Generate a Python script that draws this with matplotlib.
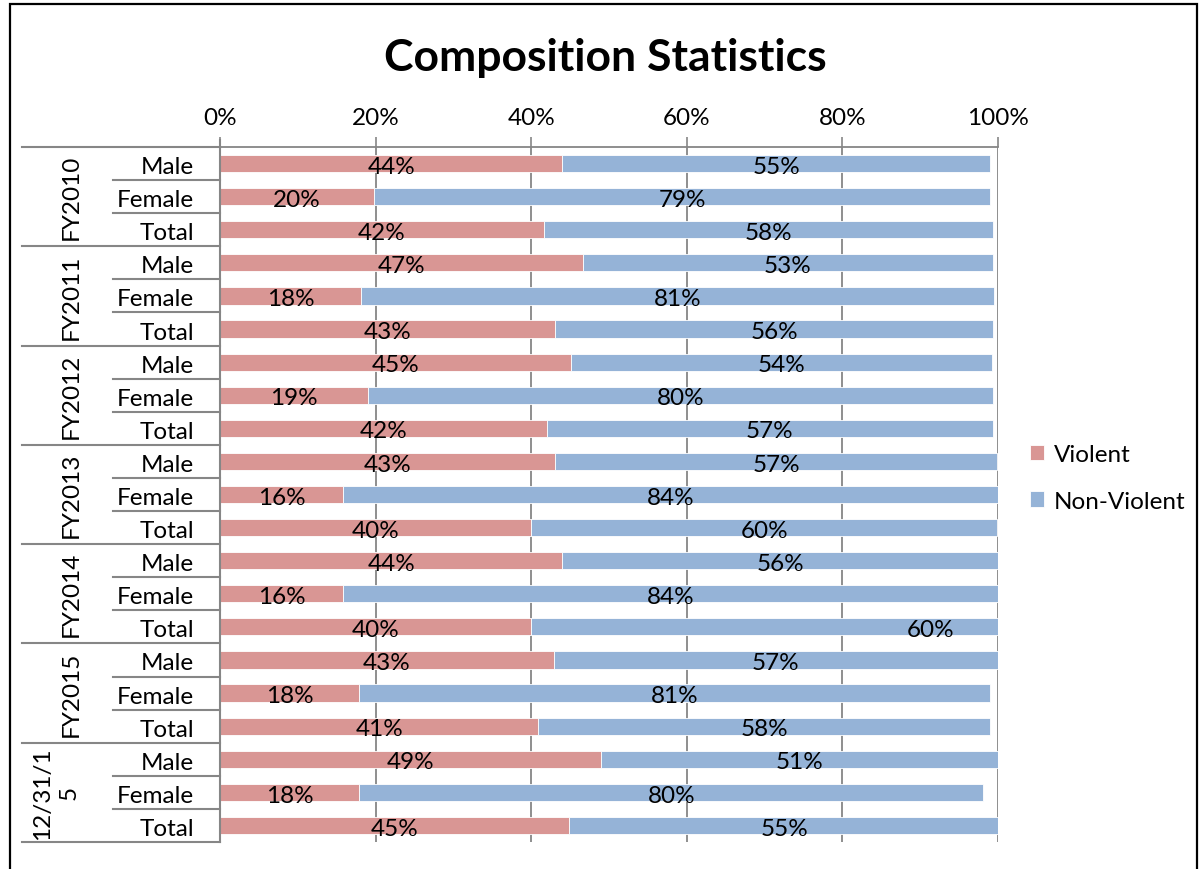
import matplotlib
matplotlib.use("Agg")
import matplotlib.pyplot as plt
from matplotlib.patches import Rectangle
from matplotlib.lines import Line2D

plt.rcParams['font.family'] = ['Lato', 'DejaVu Sans']

groups = ["FY2010", "FY2011", "FY2012", "FY2013", "FY2014", "FY2015", "12/31/1\n5"]
subcats = ["Male", "Female", "Total"]

violent = [44.0, 19.8, 41.6,
           46.6, 18.1, 43.1,
           45.1, 19.0, 42.0,
           43.1, 15.8, 40.0,
           44.0, 15.8, 40.0,
           42.9, 17.9, 40.9,
           49.0, 17.9, 44.9]
non_violent = [55.0, 79.2, 57.7,
               52.7, 81.4, 56.3,
               54.1, 80.4, 57.3,
               56.8, 84.2, 59.9,
               56.0, 84.2, 60.0,
               57.1, 81.1, 58.1,
               51.0, 80.2, 55.3]
xticks = [0, 20, 40, 60, 80, 100]
xtick_labels = ["0%", "20%", "40%", "60%", "80%", "100%"]
series_names = ["Violent", "Non-Violent"]
colors = ["#D99694", "#95B3D7"]

W, H = 1201, 870
fig = plt.figure(figsize=(W / 100, H / 100), dpi=100)

def fx(px):
    return px / W

def fy(py):
    return 1 - py / H

FS = 17.5
ax_left, ax_right, ax_top, ax_bot = 220, 998, 148, 843
ax = fig.add_axes([fx(ax_left), fy(ax_bot), fx(ax_right - ax_left), fy(ax_top) - fy(ax_bot)])

n = len(violent)
rows = list(range(n))
gray = "#868686"
bh = 0.52

ax.barh(rows, violent, height=bh, color=colors[0], edgecolor="white", linewidth=0.6, label=series_names[0], zorder=3)
ax.barh(rows, non_violent, left=violent, height=bh, color=colors[1], edgecolor="white", linewidth=0.6, label=series_names[1], zorder=3)

ax.set_xlim(0, 100)
ax.set_ylim(n - 0.5, -0.5)
ax.set_yticks([])
ax.xaxis.tick_top()
ax.set_xticks(xticks)
ax.set_xticklabels(xtick_labels, fontsize=FS)
ax.tick_params(axis='x', length=7, color=gray, width=1.2, pad=7)
for x in xticks:
    ax.axvline(x, color=gray, lw=1.3, zorder=1)
for s in ["right", "bottom"]:
    ax.spines[s].set_visible(False)
ax.spines["top"].set_color(gray)
ax.spines["top"].set_linewidth(1.3)
ax.spines["left"].set_visible(False)

# data labels
label_override = {(14, 1): 91.3}
for i in rows:
    v, nv = violent[i], non_violent[i]
    ax.text(v / 2, i + 0.08, f"{v:.0f}%", ha="center", va="center", fontsize=FS, zorder=4)
    xnv = label_override.get((i, 1), v + nv / 2)
    ax.text(xnv, i + 0.08, f"{nv:.0f}%", ha="center", va="center", fontsize=FS, zorder=4)

# category axis (multi-level)
row_h = (ax_bot - ax_top) / n

def row_y(r):
    return ax_top + (r + 0.5) * row_h

def add_line(x0, x1, y0, y1):
    fig.add_artist(Line2D([fx(x0), fx(x1)], [fy(y0), fy(y1)], color=gray, lw=1.5))

add_line(ax_left, ax_left, ax_top - 7, ax_bot)
for gi, g in enumerate(groups):
    start = gi * 3
    yb_top = ax_top + start * row_h
    add_line(22, ax_left, yb_top, yb_top)
    for k in range(1, 3):
        yy = ax_top + (start + k) * row_h
        add_line(113, ax_left, yy, yy)
    for k, s in enumerate(subcats):
        fig.text(fx(194), fy(row_y(start + k) + 3), s, ha="right", va="center", fontsize=FS)
    yc = ax_top + (start + 1.5) * row_h
    xc = 71 if "\n" not in g else 56
    fig.text(fx(xc), fy(yc), g, ha="center", va="center", rotation=90, fontsize=FS,
             multialignment="center", linespacing=1.3)
add_line(22, ax_left, ax_bot, ax_bot)

# title
fig.text(fx(605), fy(58), "Composition Statistics", ha="center", va="center", fontsize=32, fontweight="bold")

# legend
leg = fig.legend(loc="center left", bbox_to_anchor=(fx(1008), fy(479)), frameon=False,
                 fontsize=FS, handlelength=0.6, handleheight=0.6, handletextpad=0.4,
                 labelspacing=1.05)

# outer border
fig.add_artist(Rectangle((fx(10), -0.01), fx(1187), fy(5) + 0.01, transform=fig.transFigure,
                         fill=False, edgecolor="black", lw=1.6))

fig.savefig("out.png", dpi=100)
